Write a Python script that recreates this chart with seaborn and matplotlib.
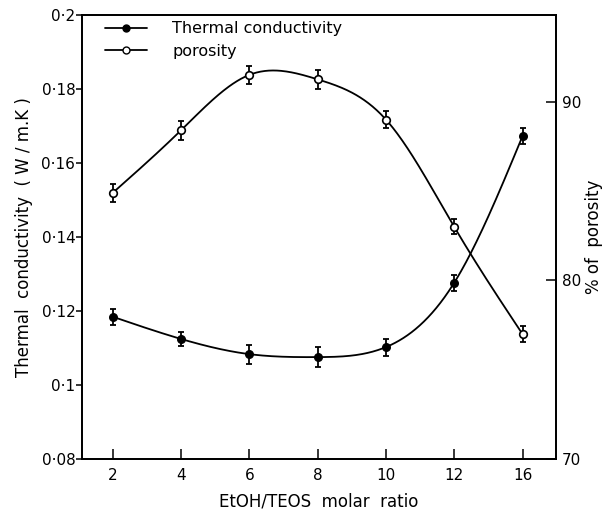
import numpy as np
import pandas as pd
import matplotlib
matplotlib.use("Agg")
import matplotlib.pyplot as plt
from matplotlib.lines import Line2D
import seaborn as sns

# ---- data ----
ratio_labels = ["2", "4", "6", "8", "10", "12", "16"]
thermal_k = [0.1185, 0.1125, 0.1084, 0.1076, 0.1103, 0.1277, 0.1673]
thermal_err = [0.0022, 0.0020, 0.0026, 0.0027, 0.0023, 0.0022, 0.0021]
porosity = [84.9, 88.4, 91.5, 91.25, 89.0, 83.0, 77.0]
porosity_err = [0.49, 0.54, 0.49, 0.52, 0.47, 0.42, 0.45]
left_ticks = [0.08, 0.10, 0.12, 0.14, 0.16, 0.18, 0.20]
left_ticklabels = ["0·08", "0·1", "0·12", "0·14", "0·16", "0·18", "0·2"]
right_ticks = [70, 80, 90]


def natural_spline(x, y, xs):
    """Smooth drawing curve through the measured points (natural cubic spline)."""
    x = np.asarray(x, float); y = np.asarray(y, float)
    n = len(x)
    h = np.diff(x)
    A = np.zeros((n, n)); b = np.zeros(n)
    A[0, 0] = A[-1, -1] = 1
    for i in range(1, n - 1):
        A[i, i - 1] = h[i - 1]
        A[i, i] = 2 * (h[i - 1] + h[i])
        A[i, i + 1] = h[i]
        b[i] = 3 * ((y[i + 1] - y[i]) / h[i] - (y[i] - y[i - 1]) / h[i - 1])
    c = np.linalg.solve(A, b)
    out = np.empty_like(xs)
    for k, t in enumerate(xs):
        i = min(max(np.searchsorted(x, t) - 1, 0), n - 2)
        dx = t - x[i]
        bb = (y[i + 1] - y[i]) / h[i] - h[i] * (2 * c[i] + c[i + 1]) / 3
        dd = (c[i + 1] - c[i]) / (3 * h[i])
        out[k] = y[i] + bb * dx + c[i] * dx ** 2 + dd * dx ** 3
    return out


sns.set_theme(style="ticks")
plt.rcParams["font.family"] = ["DejaVu Sans"]
plt.rcParams.update({"text.color": "black", "axes.labelcolor": "black",
                     "xtick.color": "black", "ytick.color": "black",
                     "axes.edgecolor": "black"})

pos = np.arange(len(ratio_labels))
df = pd.DataFrame({"pos": pos, "k": thermal_k, "por": porosity})
xs = np.linspace(pos[0], pos[-1], 400)
curve = pd.DataFrame({"x": xs,
                      "k": natural_spline(pos, thermal_k, xs),
                      "por": natural_spline(pos, porosity, xs)})

fig = plt.figure(figsize=(6.03, 5.13), dpi=100)
ax = fig.add_axes([0.1365, 0.1047, 0.7856, 0.8661])
ax2 = ax.twinx()

lw = 1.3
# thermal conductivity (left axis)
sns.lineplot(data=curve, x="x", y="k", ax=ax, color="black", lw=lw, legend=False)
ax.errorbar(df["pos"], df["k"], yerr=thermal_err, fmt="none", ecolor="black",
            elinewidth=1.3, capsize=2.5, capthick=1.3, zorder=3)
sns.scatterplot(data=df, x="pos", y="k", ax=ax, color="black", s=30,
                edgecolor="black", linewidth=1, zorder=4, legend=False)

# porosity (right axis)
sns.lineplot(data=curve, x="x", y="por", ax=ax2, color="black", lw=lw, legend=False)
ax2.errorbar(df["pos"], df["por"], yerr=porosity_err, fmt="none", ecolor="black",
             elinewidth=1.3, capsize=2.5, capthick=1.3, zorder=3)
sns.scatterplot(data=df, x="pos", y="por", ax=ax2, color="white", s=30,
                edgecolor="black", linewidth=1.2, zorder=4, legend=False)

ax.set_xlim(-0.445, 6.49)
ax.set_ylim(0.08, 0.20)
ax2.set_ylim(70, 94.85)

ax.set_xticks(pos)
ax.set_xticklabels(ratio_labels)
ax.set_yticks(left_ticks)
ax.set_yticklabels(left_ticklabels)
ax2.set_yticks(right_ticks)

fs = 11
ax.tick_params(axis="x", direction="in", length=7, width=1.1, labelsize=fs, pad=6,
               color="black", labelcolor="black")
ax.tick_params(axis="y", direction="out", length=4, width=1.1, labelsize=fs, pad=1,
               color="black", labelcolor="black")
ax2.tick_params(axis="y", direction="in", length=7, width=1.1, labelsize=fs, pad=4,
                color="black", labelcolor="black")

for a in (ax, ax2):
    for s in a.spines.values():
        s.set_linewidth(1.3)
        s.set_color("black")
        s.set_visible(True)

ax.set_xlabel("EtOH/TEOS  molar  ratio", fontsize=12, labelpad=7, color="black")
ax.set_ylabel("Thermal  conductivity  ( W / m.K )", fontsize=12, labelpad=6, color="black")
ax2.set_ylabel("% of  porosity", fontsize=12, labelpad=3, color="black")

handles = [
    Line2D([], [], color="black", lw=lw, marker="o", markersize=5,
           markerfacecolor="black", markeredgecolor="black"),
    Line2D([], [], color="black", lw=lw, marker="o", markersize=5,
           markerfacecolor="white", markeredgecolor="black"),
]
leg = ax2.legend(handles, ["Thermal conductivity", "porosity"], loc="upper left",
                 frameon=False, fontsize=11.5, handlelength=2.6, handletextpad=1.6,
                 borderaxespad=0.0, labelspacing=0.45, bbox_to_anchor=(0.035, 1.0))
for t in leg.get_texts():
    t.set_color("black")

fig.savefig("out.png", dpi=100)
